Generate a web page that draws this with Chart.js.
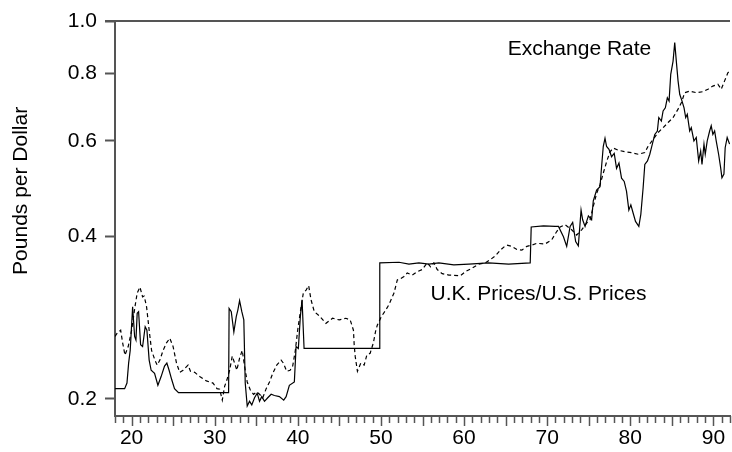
<!DOCTYPE html>
<html>
<head>
<meta charset="utf-8">
<script src="https://cdn.jsdelivr.net/npm/chart.js@4/dist/chart.umd.min.js"></script>
<style>
  html, body { margin: 0; padding: 0; background: #fff; }
  #wrap { width: 732px; height: 452px; }
</style>
</head>
<body>
<div id="wrap"><canvas id="chart" width="732" height="452"></canvas></div>
<script>
// Pounds per dollar, 1918-1992
// [year, value]
const exchangeRate = [
  [18.0,0.209],[19.16,0.209],[19.44,0.214],[19.64,0.233],[19.83,0.246],[20.12,0.296],[20.36,0.261],
  [20.52,0.257],[20.67,0.288],[20.84,0.290],[21.08,0.252],[21.32,0.250],[21.63,0.272],[21.84,0.268],
  [22.11,0.236],[22.35,0.226],[22.76,0.223],[23.16,0.212],[23.55,0.220],[23.96,0.230],[24.24,0.233],
  [24.51,0.226],[24.83,0.217],[25.16,0.209],[25.64,0.2055],[29.63,0.2055],[31.67,0.2055],[31.73,0.294],
  [31.99,0.290],[32.30,0.266],[32.59,0.284],[32.78,0.292],[32.99,0.304],[33.26,0.290],[33.50,0.280],
  [33.67,0.214],[33.91,0.194],[34.19,0.198],[34.46,0.195],[34.79,0.201],[35.11,0.205],[35.39,0.198],
  [35.66,0.202],[35.99,0.198],[36.38,0.201],[36.79,0.204],[37.18,0.203],[37.78,0.202],[38.30,0.199],
  [38.59,0.202],[38.98,0.212],[39.58,0.215],[39.79,0.250],[40.06,0.248],[40.30,0.284],[40.51,0.305],
  [40.75,0.248],[49.78,0.248],[49.86,0.357],[52.17,0.358],[53.37,0.355],[54.57,0.357],[55.77,0.355],
  [56.97,0.357],[58.77,0.354],[60.57,0.355],[62.96,0.357],[65.36,0.355],[67.96,0.357],[68.08,0.416],
  [69.56,0.418],[70.96,0.417],[71.36,0.417],[71.96,0.399],[72.35,0.383],[72.76,0.417],[73.07,0.424],
  [73.43,0.391],[73.75,0.384],[74.08,0.447],[74.27,0.429],[74.56,0.417],[74.96,0.436],[75.35,0.429],
  [75.55,0.465],[75.95,0.487],[76.36,0.494],[76.55,0.538],[76.75,0.586],[76.96,0.607],[77.15,0.586],
  [77.44,0.579],[77.75,0.561],[78.07,0.569],[78.35,0.534],[78.64,0.546],[78.95,0.512],[79.27,0.505],
  [79.55,0.484],[79.83,0.447],[80.07,0.457],[80.35,0.441],[80.63,0.426],[81.03,0.417],[81.27,0.439],
  [81.55,0.492],[81.75,0.543],[82.07,0.551],[82.35,0.567],[82.55,0.583],[82.95,0.617],[83.26,0.626],
  [83.43,0.663],[83.74,0.653],[83.95,0.682],[84.22,0.691],[84.46,0.721],[84.67,0.711],[84.87,0.797],
  [85.15,0.843],[85.35,0.912],[85.54,0.843],[85.75,0.775],[85.95,0.732],[86.23,0.711],[86.47,0.691],
  [86.67,0.663],[86.86,0.672],[87.15,0.626],[87.34,0.635],[87.66,0.600],[87.94,0.609],[88.23,0.551],
  [88.47,0.575],[88.63,0.543],[88.87,0.592],[89.02,0.567],[89.26,0.600],[89.55,0.626],[89.74,0.640],
  [89.94,0.617],[90.15,0.626],[90.34,0.600],[90.63,0.567],[90.87,0.536],[91.03,0.513],[91.27,0.521],
  [91.42,0.583],[91.66,0.609],[91.95,0.592]
];

const priceRatio = [
  [18.0,0.261],[18.28,0.265],[18.68,0.268],[18.92,0.254],[19.2,0.241],[19.59,0.250],[20.0,0.268],
  [20.4,0.296],[20.67,0.314],[21.0,0.322],[21.32,0.309],[21.51,0.310],[21.8,0.296],[22.11,0.268],
  [22.4,0.246],[22.8,0.236],[23.07,0.231],[23.4,0.236],[23.79,0.246],[24.2,0.254],[24.59,0.259],
  [24.99,0.250],[25.4,0.233],[25.79,0.224],[26.19,0.226],[26.79,0.231],[27.08,0.225],[27.59,0.224],
  [28.19,0.220],[29.0,0.216],[29.79,0.214],[30.27,0.209],[30.59,0.2085],[30.91,0.199],[31.19,0.211],
  [31.47,0.217],[31.79,0.226],[32.11,0.240],[32.39,0.233],[32.66,0.226],[32.99,0.238],[33.31,0.246],
  [33.59,0.230],[33.91,0.215],[34.27,0.208],[34.67,0.204],[35.06,0.206],[35.39,0.204],[35.78,0.201],
  [36.19,0.209],[36.59,0.215],[36.98,0.223],[37.46,0.231],[37.99,0.236],[38.26,0.233],[38.66,0.225],
  [39.07,0.226],[39.38,0.230],[39.7,0.246],[39.98,0.268],[40.39,0.296],[40.66,0.314],[40.99,0.318],
  [41.3,0.324],[41.59,0.305],[41.98,0.290],[42.58,0.285],[43.38,0.276],[44.18,0.282],[44.98,0.280],
  [45.78,0.282],[46.3,0.280],[46.69,0.268],[46.78,0.252],[46.9,0.240],[47.17,0.225],[47.58,0.233],
  [47.98,0.231],[48.3,0.241],[48.7,0.243],[49.09,0.254],[49.38,0.268],[49.57,0.274],[50.05,0.284],
  [50.58,0.292],[50.97,0.299],[51.57,0.314],[51.97,0.332],[52.38,0.334],[52.77,0.337],[53.17,0.342],
  [53.77,0.339],[54.37,0.344],[54.97,0.347],[55.57,0.357],[55.97,0.351],[56.37,0.357],[56.77,0.347],
  [57.37,0.341],[58.17,0.339],[59.57,0.338],[60.17,0.344],[60.96,0.349],[61.76,0.355],[62.57,0.357],
  [63.17,0.362],[63.77,0.368],[64.37,0.377],[64.88,0.383],[65.16,0.385],[65.76,0.383],[66.36,0.378],
  [66.96,0.377],[67.56,0.383],[68.16,0.385],[68.76,0.388],[69.76,0.387],[70.55,0.394],[71.15,0.408],
  [71.56,0.416],[72.16,0.420],[72.95,0.411],[73.55,0.402],[74.15,0.411],[74.75,0.423],[75.16,0.429],
  [75.55,0.454],[75.95,0.480],[76.36,0.498],[76.75,0.523],[77.15,0.549],[77.56,0.573],[77.95,0.582],
  [78.55,0.577],[79.36,0.573],[80.15,0.571],[80.95,0.567],[81.75,0.571],[82.15,0.587],[82.75,0.604],
  [83.35,0.622],[83.95,0.635],[84.55,0.649],[85.15,0.663],[85.75,0.687],[86.14,0.706],[86.55,0.737],
  [87.15,0.742],[87.94,0.737],[88.74,0.740],[89.34,0.748],[89.94,0.758],[90.54,0.764],[90.94,0.748],
  [91.35,0.775],[91.74,0.802],[91.98,0.808]
];

const yTicks = [0.2, 0.4, 0.6, 0.8, 1.0];
const xRange = [18, 92];
const yRange = [0.186, 1.0];

// text labels placed at [year, value]
const seriesLabels = [
  { text: 'Exchange Rate', at: [65.25, 0.885] },
  { text: 'U.K. Prices/U.S. Prices', at: [55.97, 0.312] }
];
const yTitle = 'Pounds per Dollar';

const FONT = "'Liberation Sans', Arial, sans-serif";
const AXIS = '#555';
Chart.defaults.font.family = FONT;
Chart.defaults.font.size = 21;
Chart.defaults.color = '#000';

const toXY = arr => arr.map(([x, y]) => ({ x, y }));

// top frame line + year ticks (long every 5 years)
const framePlugin = {
  id: 'frame',
  afterDraw(chart) {
    const { ctx, chartArea } = chart;
    const xs = chart.scales.x;
    ctx.save();
    ctx.strokeStyle = AXIS;
    ctx.lineWidth = 2;
    ctx.beginPath();
    ctx.moveTo(chartArea.left - 10, chartArea.top);
    ctx.lineTo(chartArea.right, chartArea.top);
    ctx.stroke();
    ctx.lineWidth = 1.5;
    xs.ticks.forEach(t => {
      const px = Math.round(xs.getPixelForValue(t.value)) + 0.5;
      const len = t.value % 5 === 0 ? 10 : 7;
      ctx.beginPath();
      ctx.moveTo(px, chartArea.bottom);
      ctx.lineTo(px, chartArea.bottom + len);
      ctx.stroke();
    });
    // y axis title, a bit above the axis middle as in the original
    ctx.translate(21.5, chartArea.top + (chartArea.bottom - chartArea.top) * 0.43);
    ctx.rotate(-Math.PI / 2);
    ctx.font = '21px ' + FONT;
    ctx.fillStyle = '#000';
    ctx.textAlign = 'center';
    ctx.textBaseline = 'middle';
    ctx.fillText(yTitle, 0, 0);
    ctx.restore();
  }
};

const labelPlugin = {
  id: 'seriesLabels',
  afterDatasetsDraw(chart) {
    const { ctx } = chart;
    ctx.save();
    ctx.font = '21px ' + FONT;
    ctx.fillStyle = '#000';
    ctx.textBaseline = 'middle';
    ctx.textAlign = 'left';
    seriesLabels.forEach(l => {
      ctx.fillText(l.text, chart.scales.x.getPixelForValue(l.at[0]), chart.scales.y.getPixelForValue(l.at[1]));
    });
    ctx.restore();
  }
};

new Chart(document.getElementById('chart'), {
  type: 'scatter',
  data: {
    datasets: [
      {
        label: 'Exchange Rate',
        data: toXY(exchangeRate),
        showLine: true,
        borderColor: '#000',
        borderWidth: 1.2,
        pointRadius: 0,
        tension: 0
      },
      {
        label: 'U.K. Prices/U.S. Prices',
        data: toXY(priceRatio),
        showLine: true,
        borderColor: '#000',
        borderWidth: 1.2,
        borderDash: [4, 3],
        pointRadius: 0,
        tension: 0
      }
    ]
  },
  options: {
    responsive: false,
    animation: false,
    devicePixelRatio: 1,
    layout: { padding: { top: 21, right: 0, left: 0, bottom: 0 } },
    plugins: { legend: { display: false }, tooltip: { enabled: false } },
    scales: {
      x: {
        type: 'linear',
        min: xRange[0],
        max: xRange[1],
        afterFit: s => { s.height = 36; },
        ticks: {
          stepSize: 1,
          includeBounds: false,
          autoSkip: false,
          maxRotation: 0,
          padding: 2,
          callback: v => (v % 10 === 0 ? String(v) : '')
        },
        grid: { drawOnChartArea: false, drawTicks: true, tickLength: 8, tickColor: 'rgba(0,0,0,0)' },
        border: { display: true, color: AXIS, width: 2 }
      },
      y: {
        type: 'logarithmic',
        min: yRange[0],
        max: yRange[1],
        afterFit: s => { s.width = 115; },
        afterBuildTicks: s => { s.ticks = yTicks.map(v => ({ value: v })); },
        ticks: {
          padding: 8,
          autoSkip: false,
          callback: v => Number(v).toFixed(1)
        },
        grid: { drawOnChartArea: false, drawTicks: true, tickLength: 10, tickColor: AXIS, tickWidth: 2 },
        border: { display: true, color: AXIS, width: 2 }
      }
    }
  },
  plugins: [framePlugin, labelPlugin]
});
</script>
</body>
</html>
